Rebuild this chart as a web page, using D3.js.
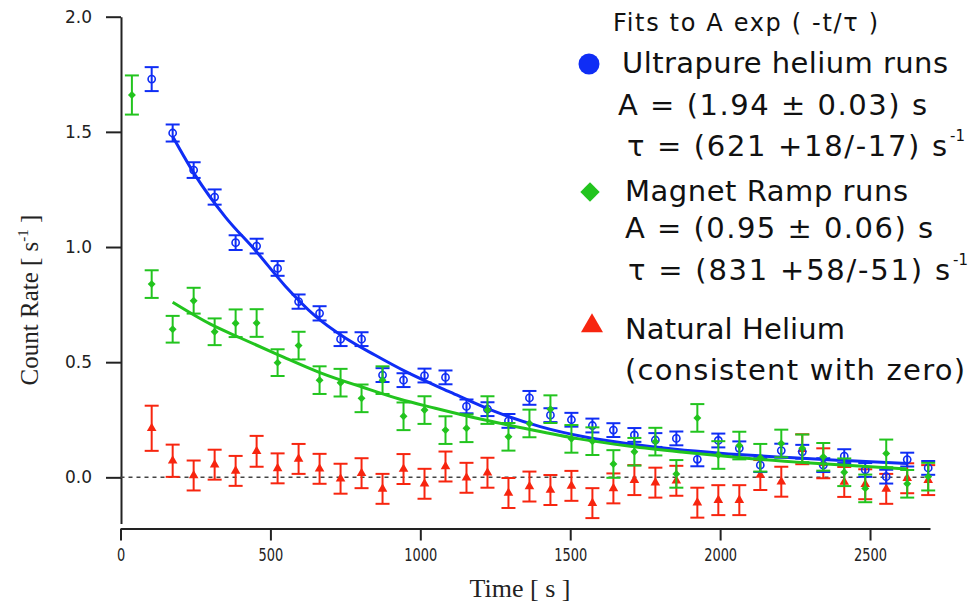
<!DOCTYPE html>
<html><head><meta charset="utf-8">
<script src="https://cdn.jsdelivr.net/npm/d3@7"></script>
<style>body{margin:0;background:#fff}</style>
</head><body>
<svg id="chart" width="974" height="605"></svg>
<script>
// ---------- data ----------
const timeTicks = [0, 500, 1000, 1500, 2000, 2500];
const rateTicks = [0.0, 0.5, 1.0, 1.5, 2.0];

const times = [104,174,244,314,384,454,524,594,664,734,804,874,944,1014,1084,1154,1224,1294,1364,1434,
               1504,1574,1644,1714,1784,1854,1924,1994,2064,2134,2204,2274,2344,2414,2484,2554,2624,2694];

const blueRate = [1.729,1.495,1.334,1.217,1.019,1.004,0.907,0.763,0.712,0.600,0.600,0.444,0.422,0.442,0.434,0.308,0.296,0.245,0.345,0.270,
                  0.250,0.225,0.205,0.184,0.162,0.169,0.078,0.160,0.126,0.053,0.116,0.111,0.053,0.092,0.032,0.003,0.077,0.041];
const blueErr  = [0.052,0.037,0.034,0.033,0.032,0.032,0.032,0.031,0.031,0.030,0.030,0.030,0.030,0.030,0.030,0.030,0.030,0.030,0.030,0.030,
                  0.030,0.030,0.030,0.030,0.030,0.030,0.030,0.030,0.030,0.030,0.030,0.030,0.030,0.030,0.030,0.030,0.030,0.030];

const greenTimes = [38].concat(times);
const greenRate = [1.66,0.839,0.643,0.767,0.632,0.669,0.670,0.498,0.572,0.422,0.411,0.343,0.422,0.265,0.292,0.205,0.213,0.292,0.176,0.234,0.296,
                   0.167,0.157,0.058,0.111,0.155,0.015,0.258,0.097,0.138,0.085,0.147,0.126,0.089,0.022,-0.048,0.104,-0.028,0.003];
const greenErr  = [0.085,0.060,0.058,0.056,0.058,0.060,0.060,0.058,0.060,0.060,0.060,0.060,0.060,0.060,0.060,0.060,0.060,0.060,0.060,0.060,0.060,
                   0.060,0.060,0.060,0.060,0.060,0.060,0.060,0.060,0.060,0.060,0.060,0.060,0.060,0.060,0.060,0.060,0.060,0.060];

const redRate = [0.213,0.072,0.008,0.055,0.028,0.113,0.039,0.080,0.037,-0.006,0.018,-0.050,0.036,-0.028,0.047,-0.002,0.020,-0.068,-0.040,-0.055,
                 -0.037,-0.112,-0.048,-0.012,-0.023,-0.015,-0.110,-0.099,-0.099,0.010,-0.019,0.122,0.061,-0.020,-0.030,-0.050,-0.004,-0.012];
const redErr  = [0.098,0.070,0.065,0.065,0.065,0.067,0.065,0.065,0.065,0.065,0.065,0.065,0.065,0.065,0.065,0.065,0.065,0.065,0.065,0.065,
                 0.065,0.065,0.065,0.065,0.065,0.065,0.065,0.065,0.065,0.065,0.065,0.065,0.065,0.065,0.065,0.065,0.065,0.065];

const blueFitT = [174,250,350,450,550,650,750,850,950,1100,1250,1400,1550,1700,1850,2000,2200,2400,2624];
const blueFitV = [1.48,1.31,1.13,0.985,0.83,0.70,0.605,0.53,0.46,0.37,0.285,0.22,0.175,0.145,0.122,0.105,0.088,0.074,0.06];
const greenFitT = [174,300,400,530,665,810,930,1050,1200,1350,1530,1700,1870,2070,2300,2624];
const greenFitV = [0.76,0.665,0.605,0.53,0.455,0.39,0.34,0.30,0.253,0.212,0.167,0.135,0.11,0.085,0.062,0.036];

const legendTitle = "Fits to A exp ( -t/\u03C4 )";
const legendRows = [
  {name:"Ultrapure helium runs", A:"A = (1.94 \u00B1 0.03) s", tau:"\u03C4 = (621 +18/-17) s"},
  {name:"Magnet Ramp runs", A:"A = (0.95 \u00B1 0.06) s", tau:"\u03C4 = (831 +58/-51) s"},
  {name:"Natural Helium", note:"(consistent with zero)"}
];

// ---------- drawing ----------
const BLUE = "#0f2df5", GREEN = "#22c41e", RED = "#f7250f";
const svg = d3.select("#chart");
const x = d3.scaleLinear().domain([0, 2700]).range([120.5, 930]);
const y = d3.scaleLinear().domain([-0.2, 2.0]).range([523.4, 16.7]);

// y axis
const yAxis = svg.append("g").attr("transform","translate(121,0)")
  .call(d3.axisLeft(y).tickValues(rateTicks).tickSize(15).tickSizeOuter(0).tickPadding(14).tickFormat(d3.format(".1f")));
yAxis.select(".domain").attr("stroke","#222").attr("stroke-width",2);
yAxis.selectAll(".tick line").attr("stroke","#222").attr("stroke-width",2);
yAxis.selectAll(".tick text").attr("font-family","DejaVu Sans").attr("font-size",17).attr("fill","#222");

// x axis
const xAxis = svg.append("g").attr("transform","translate(0,528.5)")
  .call(d3.axisBottom(x).tickValues(timeTicks).tickSize(12).tickSizeOuter(0).tickPadding(8).tickFormat(d3.format("d")));
xAxis.select(".domain").attr("stroke","#222").attr("stroke-width",2);
xAxis.selectAll(".tick line").attr("stroke","#222").attr("stroke-width",2);
xAxis.selectAll(".tick text").attr("font-family","DejaVu Sans").attr("font-size",18).attr("fill","#222")
  .attr("transform","scale(0.72,1)");

// axis titles
svg.append("text").attr("x",520).attr("y",597).attr("text-anchor","middle")
  .attr("font-family","Liberation Serif").attr("font-size",26).attr("fill","#222")
  .text("Time [ s ]");
const yt = svg.append("text").attr("transform","translate(38,300) rotate(-90)").attr("text-anchor","middle")
  .attr("font-family","Liberation Serif").attr("font-size",25).attr("fill","#222");
yt.append("tspan").text("Count Rate [ s");
yt.append("tspan").attr("font-size",15).attr("dy",-10).text("-1");
yt.append("tspan").attr("dy",10).text(" ]");

// zero line
svg.append("line").attr("x1",x(0)).attr("x2",x(2700)).attr("y1",y(0)).attr("y2",y(0))
  .attr("stroke","#444").attr("stroke-width",1.5).attr("stroke-dasharray","4,4");

function errorBars(g, ts, vs, es, color){
  const d = ts.map((t,i)=>({t, v:vs[i], e:es[i]}));
  const gg = g.append("g").attr("stroke",color).attr("stroke-width",2).attr("fill","none");
  gg.selectAll("line.v").data(d).join("line").attr("class","v")
    .attr("x1",p=>x(p.t)).attr("x2",p=>x(p.t)).attr("y1",p=>y(p.v-p.e)).attr("y2",p=>y(p.v+p.e));
  gg.selectAll("line.t").data(d).join("line").attr("class","t")
    .attr("x1",p=>x(p.t)-7).attr("x2",p=>x(p.t)+7).attr("y1",p=>y(p.v+p.e)).attr("y2",p=>y(p.v+p.e));
  gg.selectAll("line.b").data(d).join("line").attr("class","b")
    .attr("x1",p=>x(p.t)-7).attr("x2",p=>x(p.t)+7).attr("y1",p=>y(p.v-p.e)).attr("y2",p=>y(p.v-p.e));
  return d;
}

const line = d3.line().x(p=>x(p[0])).y(p=>y(p[1])).curve(d3.curveMonotoneX);

// red
const gr = svg.append("g");
const rd = errorBars(gr, times, redRate, redErr, RED);
gr.selectAll("path.m").data(rd).join("path").attr("class","m")
  .attr("d", d3.symbol(d3.symbolTriangle, 40)).attr("fill",RED)
  .attr("transform",p=>`translate(${x(p.t)},${y(p.v)})`);

// blue
const gb = svg.append("g");
const bd = errorBars(gb, times, blueRate, blueErr, BLUE);
gb.selectAll("circle").data(bd).join("circle")
  .attr("cx",p=>x(p.t)).attr("cy",p=>y(p.v)).attr("r",3.6)
  .attr("fill","none").attr("stroke",BLUE).attr("stroke-width",1.6);
gb.append("path").attr("d", line(blueFitT.map((t,i)=>[t, blueFitV[i]])))
  .attr("fill","none").attr("stroke",BLUE).attr("stroke-width",3);

// green
const gg = svg.append("g");
const gd = errorBars(gg, greenTimes, greenRate, greenErr, GREEN);
gg.selectAll("path.m").data(gd).join("path").attr("class","m")
  .attr("d", d3.symbol(d3.symbolDiamond2, 40)).attr("fill",GREEN)
  .attr("transform",p=>`translate(${x(p.t)},${y(p.v)})`);
gg.append("path").attr("d", line(greenFitT.map((t,i)=>[t, greenFitV[i]])))
  .attr("fill","none").attr("stroke",GREEN).attr("stroke-width",3);

// legend
const L = svg.append("g").attr("font-family","DejaVu Sans").attr("fill","#111");
function ltext(str, x0, x1, yb, size){
  return L.append("text").attr("x",x0).attr("y",yb).attr("font-size",size)
    .attr("textLength", x1 - x0).attr("lengthAdjust","spacing").text(str);
}
function sup(str, x0, yb){
  return L.append("text").attr("x",x0).attr("y",yb).attr("font-size",15).text(str);
}
ltext(legendTitle, 613, 878, 31, 24);
L.append("circle").attr("cx",589).attr("cy",64).attr("r",10.5).attr("fill",BLUE);
ltext(legendRows[0].name, 622, 948, 73, 29);
ltext(legendRows[0].A, 618, 927, 115, 29);
ltext(legendRows[0].tau, 627, 947, 156, 29);
sup("-1", 950, 141);
L.append("path").attr("d", d3.symbol(d3.symbolDiamond2, 240)).attr("fill",GREEN).attr("transform","translate(590,192)");
ltext(legendRows[1].name, 625, 908, 201, 29);
ltext(legendRows[1].A, 625, 933, 238, 29);
ltext(legendRows[1].tau, 628, 950, 280, 29);
sup("-1", 953, 265);
L.append("path").attr("d", d3.symbol(d3.symbolTriangle, 210)).attr("fill",RED).attr("transform","translate(592,326)");
ltext(legendRows[2].name, 625, 845, 339, 29);
ltext(legendRows[2].note, 625, 965, 380, 29);
</script>
</body></html>
